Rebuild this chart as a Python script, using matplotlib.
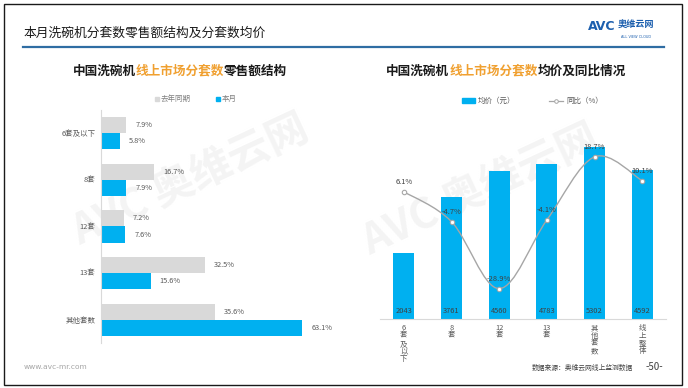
import matplotlib
matplotlib.use("Agg")
import matplotlib.pyplot as plt
from matplotlib.path import Path
from matplotlib.patches import PathPatch, Rectangle
from matplotlib.lines import Line2D
import numpy as np

plt.rcParams['font.family'] = ['Noto Sans CJK SC', 'DejaVu Sans']

# ---------------- data ----------------
left_categories = ["6套及以下", "8套", "12套", "13套", "其他套数"]
share_last_year = [7.9, 16.7, 7.2, 32.5, 35.6]
share_this_month = [5.8, 7.9, 7.6, 15.6, 63.1]

right_categories = ["6套及以下", "8套", "12套", "13套", "其他套数", "线上整体"]
right_tick_labels = ["6\n套\n及\n以\n下", "8\n套", "12\n套", "13\n套", "其\n他\n套\n数", "线\n上\n整\n体"]
avg_price = [2043, 3761, 4560, 4783, 5302, 4592]
yoy_pct = [6.1, -4.7, -28.9, -4.1, 18.7, 10.1]

BLUE = "#00b0f0"
GRAY = "#d9d9d9"
ORANGE = "#f0a030"

W, H = 688, 388
fig = plt.figure(figsize=(W / 100, H / 100), dpi=100)
fig.patch.set_facecolor("white")


def fx(x):
    return x / W


def fy(y):
    return 1 - y / H


def ax_rect(x0, y0, x1, y1):
    return [fx(x0), fy(y1), (x1 - x0) / W, (y1 - y0) / H]


# frame
fig.add_artist(Rectangle((fx(4), fy(385)), (682 - 4) / W, (385 - 4) / H,
                         transform=fig.transFigure, fill=False, edgecolor="#1a1a1a", lw=1.0))

# main title
fig.text(fx(23), fy(33), "本月洗碗机分套数零售额结构及分套数均价", fontsize=9.2,
         color="#1a1a1a", ha="left", va="center", fontweight="medium")
fig.add_artist(Line2D([fx(23), fx(664)], [fy(47), fy(47)], transform=fig.transFigure,
                      color="#2f6da3", lw=1.6))

# logo
fig.text(fx(588), fy(27), "AVC", fontsize=9, color="#1c5fae", fontweight="heavy",
         ha="left", va="center", family=["DejaVu Sans"])
fig.text(fx(618), fy(25), "奥维云网", fontsize=6.6, color="#1c5fae", fontweight="bold",
         ha="left", va="center")
fig.text(fx(636), fy(37), "ALL VIEW CLOUD", fontsize=2.5, color="#1c5fae",
         ha="center", va="center", family=["DejaVu Sans"])

# watermarks (behind everything)
for (x, y, rot) in [(190, 180, 25), (480, 190, 25)]:
    fig.text(fx(x), fy(y), "AVC 奥维云网", fontsize=30, color="#f4f4f4", rotation=rot,
             ha="center", va="center", fontweight="bold", zorder=-5)


def colored_title(cx, y, segments, fs):
    n = sum(len(s) for s, _ in segments)
    cw = fs * 100 / 72
    x = cx - n * cw / 2
    for s, c in segments:
        fig.text(fx(x), fy(y), s, fontsize=fs, color=c, fontweight="bold",
                 ha="left", va="center")
        x += len(s) * cw


colored_title(180, 71, [("中国洗碗机", "#1a1a1a"), ("线上市场分套数", ORANGE), ("零售额结构", "#1a1a1a")], 9.1)
colored_title(506, 71, [("中国洗碗机", "#1a1a1a"), ("线上市场分套数", ORANGE), ("均价及同比情况", "#1a1a1a")], 9.1)

# ---------------- left chart ----------------
axL = fig.add_axes(ax_rect(101, 110, 357, 343))
ypos = np.arange(len(left_categories))
bh = 0.345
axL.barh(ypos - bh / 2, share_last_year, height=bh, color=GRAY, zorder=2)
axL.barh(ypos + bh / 2, share_this_month, height=bh, color=BLUE, zorder=2)
axL.set_xlim(0, 80.2)
axL.set_ylim(4.5, -0.5)
for i, (a, b) in enumerate(zip(share_last_year, share_this_month)):
    axL.text(a + 2.8, i - bh / 2, f"{a:.1f}%", fontsize=5.3, color="#595959",
             va="center", ha="left")
    axL.text(b + 2.8, i + bh / 2, f"{b:.1f}%", fontsize=5.3, color="#595959",
             va="center", ha="left")
axL.set_yticks(ypos)
axL.set_yticklabels(left_categories, fontsize=5.4, color="#595959")
axL.tick_params(axis="y", length=0, pad=4)
axL.set_xticks([])
for s in ["top", "right", "bottom"]:
    axL.spines[s].set_visible(False)
axL.spines["left"].set_color("#d9d9d9")
axL.spines["left"].set_linewidth(0.8)
axL.patch.set_alpha(0)

# left legend
fig.add_artist(Rectangle((fx(155), fy(100.5)), 4 / W, 4 / H, transform=fig.transFigure,
                         color=GRAY))
fig.text(fx(161), fy(98.5), "去年同期", fontsize=5.4, color="#7f7f7f", ha="left", va="center")
fig.add_artist(Rectangle((fx(216), fy(100.5)), 4 / W, 4 / H, transform=fig.transFigure,
                         color=BLUE))
fig.text(fx(222), fy(98.5), "本月", fontsize=5.4, color="#7f7f7f", ha="left", va="center")

# ---------------- right chart ----------------
axR = fig.add_axes(ax_rect(380, 130, 666, 318.7))
xpos = np.arange(len(right_categories))
axR.bar(xpos, avg_price, width=0.44, color=BLUE, zorder=2)
axR.set_xlim(-0.5, 5.5)
axR.set_ylim(0, 5837)
for i, v in enumerate(avg_price):
    axR.text(i, 230, f"{v}", fontsize=5.4, color="#404040", ha="center", va="center", zorder=3)
axR.set_xticks(xpos)
axR.set_xticklabels(right_tick_labels, fontsize=5.4, color="#595959", linespacing=0.95,
                    va="top")
axR.tick_params(axis="x", length=0, pad=4)
axR.set_yticks([])
for s in ["top", "right", "left"]:
    axR.spines[s].set_visible(False)
axR.spines["bottom"].set_color("#d9d9d9")
axR.spines["bottom"].set_linewidth(0.8)
axR.patch.set_alpha(0)

ax2 = axR.twinx()
ax2.set_ylim(-39.75, 28.4)
ax2.set_xlim(-0.5, 5.5)
ax2.axis("off")

# smooth line (Catmull-Rom -> cubic Bezier in data coordinates)
pts = np.column_stack([xpos, yoy_pct]).astype(float)
ext = np.vstack([pts[0], pts, pts[-1]])
verts = [tuple(pts[0])]
codes = [Path.MOVETO]
for i in range(len(pts) - 1):
    p0, p1, p2, p3 = ext[i], ext[i + 1], ext[i + 2], ext[i + 3]
    c1 = p1 + (p2 - p0) / 6
    c2 = p2 - (p3 - p1) / 6
    verts += [tuple(c1), tuple(c2), tuple(p2)]
    codes += [Path.CURVE4] * 3
ax2.add_patch(PathPatch(Path(verts, codes), facecolor="none", edgecolor="#a6a6a6",
                        lw=1.0, zorder=4))
ax2.plot(xpos, yoy_pct, linestyle="none", marker="o", markersize=3.2,
         markerfacecolor="white", markeredgecolor="#a6a6a6", markeredgewidth=0.8, zorder=5)
for i, v in enumerate(yoy_pct):
    ax2.text(i, v + 3.6, f"{v:.1f}%", fontsize=5.4, color="#404040", ha="center",
             va="center", zorder=6)

# right legend
fig.add_artist(Rectangle((fx(462), fy(102.5)), 13 / W, 5 / H, transform=fig.transFigure,
                         color=BLUE))
fig.text(fx(478), fy(100.5), "均价（元）", fontsize=5.4, color="#595959", ha="left", va="center")
fig.add_artist(Line2D([fx(549), fx(563)], [fy(100.5), fy(100.5)], transform=fig.transFigure,
                      color="#a6a6a6", lw=0.9))
fig.add_artist(Line2D([fx(556)], [fy(100.5)], transform=fig.transFigure, linestyle="none",
                      marker="o", markersize=2.6, markerfacecolor="white",
                      markeredgecolor="#a6a6a6", markeredgewidth=0.7))
fig.text(fx(566), fy(100.5), "同比（%）", fontsize=5.4, color="#595959", ha="left", va="center")

# footer
fig.text(fx(24), fy(367), "www.avc-mr.com", fontsize=5.4, color="#a6a6a6", ha="left",
         va="center", family=["DejaVu Sans"])
fig.text(fx(633), fy(368), "数据来源：奥维云网线上监测数据", fontsize=4.9, color="#404040",
         ha="right", va="center")
fig.text(fx(654), fy(367), "-50-", fontsize=7, color="#404040", ha="center", va="center")

fig.savefig("out.png", dpi=100)
